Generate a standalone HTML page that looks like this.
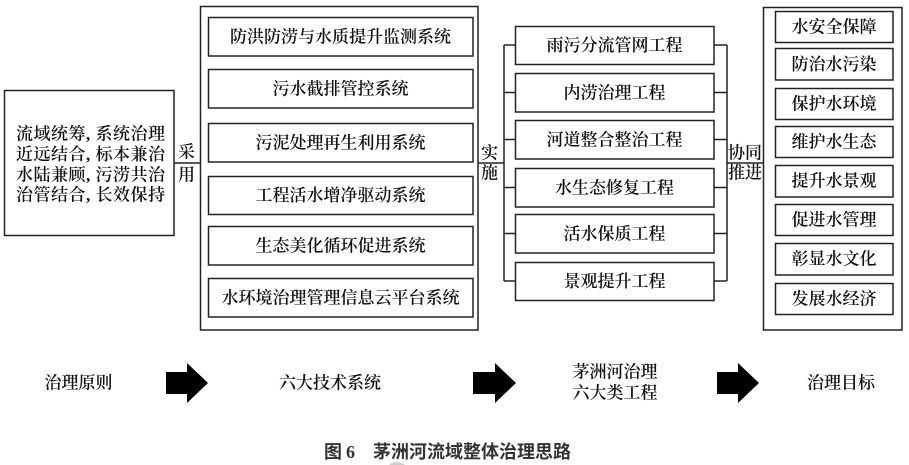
<!DOCTYPE html>
<html>
<head>
<meta charset="utf-8">
<style>
  html, body { margin:0; padding:0; background:#fff; }
  svg { display:block; }
  .t { font-family: "Liberation Serif", "Noto Serif CJK SC", serif; font-size:17px; fill:#111; font-weight:600; }
  .c { text-anchor:middle; dominant-baseline:central; }
  .cap { font-family: "Liberation Sans", "Noto Sans CJK SC", sans-serif; font-size:18px; fill:#333; font-weight:700; dominant-baseline:central; }
</style>
</head>
<body>
<svg width="909" height="465" viewBox="0 0 909 465" xmlns="http://www.w3.org/2000/svg">
  <g fill="none" stroke="#222" stroke-width="1.5">
    <!-- left box -->
    <rect x="4.5" y="90.5" width="169.5" height="145"/>
    <line x1="174" y1="163" x2="200" y2="163"/>
    <!-- tech systems outer -->
    <rect x="200.5" y="6.5" width="277.5" height="323.5"/>
    <rect x="208.5" y="17.5" width="264.5" height="38.5"/>
    <rect x="208.5" y="69.5" width="264.5" height="38.5"/>
    <rect x="208.5" y="123.5" width="264.5" height="38.5"/>
    <rect x="208.5" y="176.5" width="264.5" height="38"/>
    <rect x="208.5" y="226.5" width="264.5" height="38.5"/>
    <rect x="208.5" y="278.5" width="264.5" height="38.5"/>
    <!-- 实施 connector -->
    <line x1="478" y1="163" x2="504" y2="163"/>
    <line x1="504" y1="45" x2="504" y2="281"/>
    <line x1="504" y1="45" x2="515" y2="45"/>
    <line x1="504" y1="92.5" x2="515" y2="92.5"/>
    <line x1="504" y1="139.5" x2="515" y2="139.5"/>
    <line x1="504" y1="187.5" x2="515" y2="187.5"/>
    <line x1="504" y1="233.5" x2="515" y2="233.5"/>
    <line x1="504" y1="281" x2="515" y2="281"/>
    <!-- middle boxes -->
    <rect x="515.5" y="26.5" width="198.5" height="38"/>
    <rect x="515.5" y="73.5" width="198.5" height="38.5"/>
    <rect x="515.5" y="120.5" width="198.5" height="38.5"/>
    <rect x="515.5" y="168.5" width="198.5" height="38.5"/>
    <rect x="515.5" y="214.5" width="198.5" height="38.5"/>
    <rect x="515.5" y="262.5" width="198.5" height="38"/>
    <!-- right bracket -->
    <line x1="714" y1="45" x2="727" y2="45"/>
    <line x1="714" y1="92.5" x2="727" y2="92.5"/>
    <line x1="714" y1="139.5" x2="727" y2="139.5"/>
    <line x1="714" y1="187.5" x2="727" y2="187.5"/>
    <line x1="714" y1="233.5" x2="727" y2="233.5"/>
    <line x1="714" y1="281" x2="727" y2="281"/>
    <line x1="727" y1="45" x2="727" y2="281"/>
    <line x1="727" y1="163" x2="763" y2="163"/>
    <!-- right outer -->
    <rect x="763.5" y="7.5" width="138.5" height="322.5"/>
    <rect x="775.5" y="11.5" width="117.5" height="31"/>
    <rect x="775.5" y="48.5" width="117.5" height="31.5"/>
    <rect x="775.5" y="88.5" width="117.5" height="31"/>
    <rect x="775.5" y="126.5" width="117.5" height="31"/>
    <rect x="775.5" y="165.5" width="117.5" height="31.5"/>
    <rect x="775.5" y="204.5" width="117.5" height="31"/>
    <rect x="775.5" y="243.5" width="117.5" height="31.5"/>
    <rect x="775.5" y="283.5" width="117.5" height="31"/>
  </g>

  <!-- left box text -->
  <g class="t">
    <text x="16" y="134" dominant-baseline="central" textLength="149" lengthAdjust="spacing">流域统筹, 系统治理</text>
    <text x="16" y="154.5" dominant-baseline="central" textLength="149" lengthAdjust="spacing">近远结合, 标本兼治</text>
    <text x="16" y="175" dominant-baseline="central" textLength="149" lengthAdjust="spacing">水陆兼顾, 污涝共治</text>
    <text x="16" y="195" dominant-baseline="central" textLength="149" lengthAdjust="spacing">治管结合, 长效保持</text>
  </g>
  <text class="t c" x="186.5" y="152">采</text>
  <text class="t c" x="186.5" y="175">用</text>

  <!-- tech systems -->
  <text class="t c" x="340.5" y="37">防洪防涝与水质提升监测系统</text>
  <text class="t c" x="340.5" y="89">污水截排管控系统</text>
  <text class="t c" x="340.5" y="143">污泥处理再生利用系统</text>
  <text class="t c" x="340.5" y="195.5">工程活水增净驱动系统</text>
  <text class="t c" x="340.5" y="246">生态美化循环促进系统</text>
  <text class="t c" x="340.5" y="298">水环境治理管理信息云平台系统</text>

  <text class="t c" x="489.5" y="153">实</text>
  <text class="t c" x="489.5" y="173">施</text>

  <!-- projects -->
  <text class="t c" x="614.5" y="45.5">雨污分流管网工程</text>
  <text class="t c" x="614.5" y="93">内涝治理工程</text>
  <text class="t c" x="614.5" y="140">河道整合整治工程</text>
  <text class="t c" x="614.5" y="188">水生态修复工程</text>
  <text class="t c" x="614.5" y="234">活水保质工程</text>
  <text class="t c" x="614.5" y="281.5">景观提升工程</text>

  <text class="t c" x="745" y="153">协同</text>
  <text class="t c" x="745" y="173">推进</text>

  <!-- goals -->
  <text class="t c" x="834" y="27">水安全保障</text>
  <text class="t c" x="834" y="64.5">防治水污染</text>
  <text class="t c" x="834" y="104">保护水环境</text>
  <text class="t c" x="834" y="142">维护水生态</text>
  <text class="t c" x="834" y="181">提升水景观</text>
  <text class="t c" x="834" y="220">促进水管理</text>
  <text class="t c" x="834" y="259">彰显水文化</text>
  <text class="t c" x="834" y="299">发展水经济</text>

  <!-- bottom row -->
  <text class="t c" x="78.5" y="383">治理原则</text>
  <polygon points="166,372 187,372 187,363 208,383 187,403 187,394 166,394" fill="#000"/>
  <text class="t c" x="330" y="383">六大技术系统</text>
  <polygon points="473,372 495,372 495,363 516,383 495,403 495,394 473,394" fill="#000"/>
  <text class="t c" x="615" y="372">茅洲河治理</text>
  <text class="t c" x="615" y="393">六大类工程</text>
  <polygon points="717,372 738,372 738,363 759,383 738,403 738,394 717,394" fill="#000"/>
  <text class="t c" x="841" y="383">治理目标</text>

  <!-- caption -->
  <text class="cap" x="324" y="452">图</text>
  <text class="cap" x="346" y="452" style="font-family:'Liberation Serif',serif;">6</text>
  <text class="cap" x="373" y="452">茅洲河流域整体治理思路</text>
  <circle cx="397" cy="474" r="12" fill="#ccc"/>
</svg>
</body>
</html>
